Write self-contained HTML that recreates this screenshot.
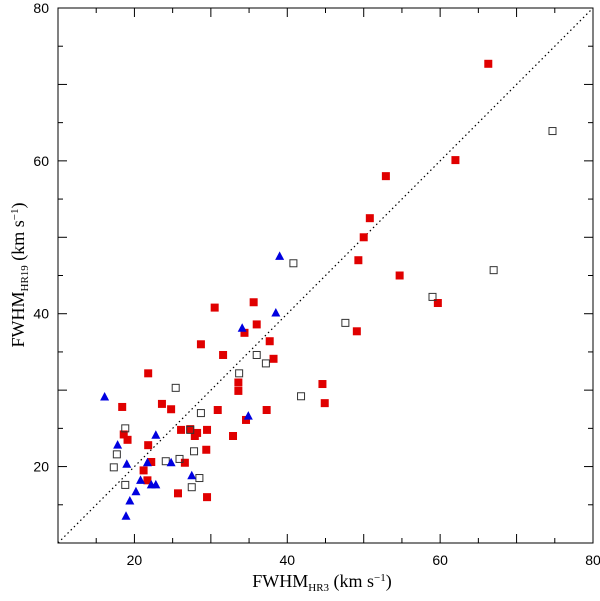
<!DOCTYPE html>
<html><head><meta charset="utf-8"><style>
body{margin:0;background:#fff}
svg text{font-family:"Liberation Serif",serif;fill:#000}
svg text.tl{font-family:"Liberation Sans",sans-serif}
</style></head><body>
<svg id="chart" width="600" height="596" xmlns="http://www.w3.org/2000/svg">
<rect x="58" y="8" width="535" height="535" fill="none" stroke="#000" stroke-width="1"/>
<g id="ticks"></g>
<line id="diag" stroke="#000" stroke-width="1.2" stroke-dasharray="1.5,3"/>
<g id="marks"></g>
<text x="322" y="587" font-size="18" text-anchor="middle">FWHM<tspan font-size="11" dy="4">HR3</tspan><tspan dy="-4"> (km s</tspan><tspan font-size="11" dy="-6">−1</tspan><tspan dy="6">)</tspan></text>
<text transform="translate(24,275) rotate(-90)" font-size="18" text-anchor="middle">FWHM<tspan font-size="11" dy="4">HR19</tspan><tspan dy="-4"> (km s</tspan><tspan font-size="11" dy="-6">−1</tspan><tspan dy="6">)</tspan></text>
</svg>
<script>
const tickLabels=[20,40,60,80];
const redX=[66.3,62.0,52.9,50.8,50.0,49.3,54.7,59.7,49.1,44.6,44.9,30.5,35.6,36.0,34.4,37.7,38.2,31.6,28.7,21.8,23.6,24.8,18.4,30.9,33.6,33.6,37.3,34.6,32.9,29.5,29.4,27.3,26.1,27.9,28.2,26.6,18.6,19.1,21.8,22.2,21.2,21.7,25.7,29.5];
const redY=[72.7,60.1,58.0,52.5,50.0,47.0,45.0,41.4,37.7,30.8,28.3,40.8,41.5,38.6,37.5,36.4,34.1,34.6,36.0,32.2,28.2,27.5,27.8,27.4,31.0,29.9,27.4,26.1,24.0,24.8,22.2,24.9,24.8,24.0,24.4,20.5,24.2,23.5,22.8,20.6,19.5,18.2,16.5,16.0];
const blueX=[16.1,17.8,19.0,18.9,19.4,20.2,20.8,21.7,22.8,22.2,22.8,24.8,27.5,34.1,34.9,38.5,39.0];
const blueY=[29.1,22.8,20.3,13.5,15.5,16.7,18.2,20.5,24.1,17.6,17.6,20.5,18.8,38.1,26.6,40.1,47.5];
const openX=[74.7,67.0,59.0,40.8,47.6,41.8,33.7,36.0,37.2,25.4,28.7,27.3,18.8,17.7,17.3,24.1,25.9,27.8,28.5,27.5,18.8];
const openY=[63.9,45.7,42.2,46.6,38.8,29.2,32.2,34.6,33.5,30.3,27.0,24.8,25.0,21.6,19.9,20.7,21.0,22.0,18.5,17.3,17.6];
const NS="http://www.w3.org/2000/svg";
const sx=v=>58+(v-10)*535/70, sy=v=>543-(v-10)*535/70;
function mk(t,a,p){const e=document.createElementNS(NS,t);for(const k in a)e.setAttribute(k,a[k]);p.appendChild(e);return e;}
const tg=document.getElementById('ticks'), svg=document.getElementById('chart');
for(let v=15;v<80;v+=5){
  const L=(v%10===0)?9:5, x=sx(v), y=sy(v);
  mk('line',{x1:x,x2:x,y1:543,y2:543-L,stroke:'#000'},tg);
  mk('line',{x1:x,x2:x,y1:8,y2:8+L,stroke:'#000'},tg);
  mk('line',{x1:58,x2:58+L,y1:y,y2:y,stroke:'#000'},tg);
  mk('line',{x1:593,x2:593-L,y1:y,y2:y,stroke:'#000'},tg);
}
tickLabels.forEach(v=>{
  const t=mk('text',{x:sx(v),y:565,'font-size':14,'text-anchor':'middle','class':'tl'},svg);t.textContent=v;
  
  
  const u=mk('text',{x:49,y:sy(v)+5,'font-size':14,'text-anchor':'end','class':'tl'},svg);u.textContent=v;
  
  
});
const d=document.getElementById('diag');
d.setAttribute('x1',sx(10));d.setAttribute('y1',sy(10));d.setAttribute('x2',sx(80));d.setAttribute('y2',sy(80));
const mg=document.getElementById('marks');
redX.forEach((x,i)=>{const e=mk('rect',{x:sx(x)-4,y:sy(redY[i])-4,width:8,height:8,fill:'#e00000'},mg);
  
  });
openX.forEach((x,i)=>{const e=mk('rect',{x:sx(x)-3.5,y:sy(openY[i])-3.5,width:7,height:7,fill:'none',stroke:'#333','stroke-width':1},mg);
  
  });
blueX.forEach((x,i)=>{const cx=sx(x),cy=sy(blueY[i]);const e=mk('polygon',{points:`${cx},${cy-5} ${cx-4.5},${cy+3.5} ${cx+4.5},${cy+3.5}`,fill:'#0000e0'},mg);
  
  });
</script>
</body></html>
